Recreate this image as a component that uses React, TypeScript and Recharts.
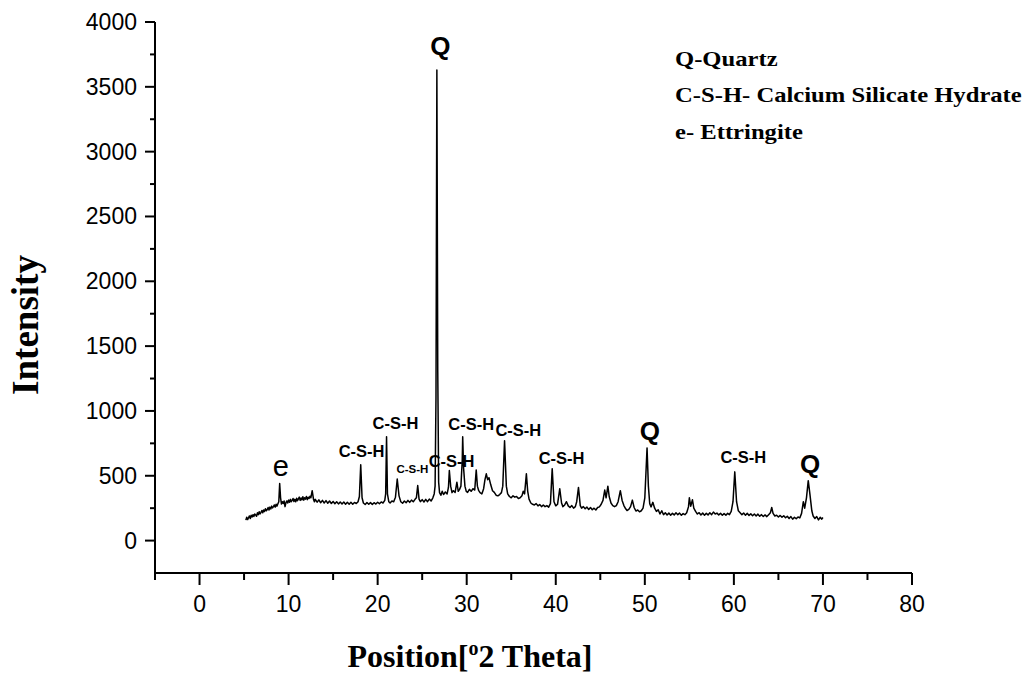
import React from "react";
import { LineChart, Line, XAxis, YAxis, ReferenceDot } from "recharts";

// XRD pattern: [2-theta, intensity]
const segLow: number[][] = [
  [5.2, 158], [5.3, 180], [5.4, 162], [5.5, 176], [5.6, 190], [5.7, 170], [5.8, 195], [5.9, 182],
  [6.0, 200], [6.1, 186], [6.2, 205], [6.3, 198], [6.4, 188], [6.5, 214], [6.6, 200], [6.7, 222],
  [6.8, 206], [6.9, 218], [7.0, 232], [7.1, 214], [7.2, 236], [7.3, 224], [7.4, 246], [7.5, 230],
  [7.6, 240], [7.7, 255], [7.8, 236], [7.9, 258], [8.0, 244], [8.1, 266], [8.2, 252], [8.3, 262],
  [8.4, 275], [8.5, 258], [8.6, 280], [8.7, 266], [8.8, 284], [8.9, 300], [9.0, 440], [9.1, 330],
  [9.2, 282], [9.3, 300], [9.4, 286], [9.5, 305], [9.6, 262], [9.7, 292], [9.8, 306], [9.9, 290],
  [10.0, 312], [10.1, 296], [10.2, 318], [10.3, 300], [10.4, 310], [10.5, 325], [10.6, 302], [10.7, 318],
  [10.8, 300], [10.9, 326], [11.0, 308], [11.1, 322], [11.2, 335], [11.3, 310], [11.4, 328], [11.5, 314],
  [11.6, 338], [11.7, 312], [11.8, 330], [11.9, 320], [12.0, 340], [12.1, 316], [12.2, 334], [12.3, 325],
  [12.4, 342], [12.5, 330], [12.65, 385], [12.8, 318],
];

const segMid: number[][] = [
  [12.9, 300], [13.0, 318], [13.2, 296], [13.4, 314], [13.6, 292], [13.8, 310], [14.0, 290], [14.2, 308],
  [14.4, 288], [14.6, 305], [14.8, 286], [15.0, 302], [15.2, 284], [15.4, 300], [15.6, 283], [15.8, 298],
  [16.0, 282], [16.2, 297], [16.4, 280], [16.6, 295], [16.8, 281], [17.0, 296], [17.2, 280], [17.4, 294],
  [17.6, 286], [17.8, 300], [17.95, 340], [18.1, 585], [18.25, 330], [18.4, 290], [18.6, 278], [18.8, 294],
  [19.0, 280], [19.2, 293], [19.4, 279], [19.6, 292], [19.8, 282], [20.0, 296], [20.2, 284], [20.4, 298],
  [20.6, 290], [20.8, 310], [20.9, 360], [21.0, 800], [21.1, 360], [21.25, 300], [21.4, 290], [21.6, 305],
  [21.8, 300], [22.0, 335], [22.2, 475], [22.4, 345], [22.6, 300], [22.8, 288], [23.0, 305], [23.2, 292],
  [23.4, 310], [23.6, 295], [23.8, 312], [24.0, 300], [24.2, 318], [24.35, 330], [24.5, 425], [24.65, 320],
  [24.8, 300], [25.0, 316], [25.2, 298], [25.4, 318], [25.6, 300], [25.8, 320], [26.0, 305], [26.2, 330],
  [26.35, 360],
];

const segQuartz: number[][] = [
  [26.45, 420], [26.55, 1100], [26.65, 3630], [26.75, 1300], [26.85, 450], [26.95, 370],
];

const segHump: number[][] = [
  [27.1, 350], [27.25, 380], [27.4, 355], [27.6, 375], [27.8, 360], [27.95, 410], [28.05, 540], [28.2, 420],
  [28.35, 370], [28.5, 385], [28.7, 372], [28.9, 450], [29.05, 380], [29.2, 395], [29.35, 420], [29.5, 620],
  [29.55, 800], [29.65, 560], [29.8, 420], [29.95, 380], [30.1, 372], [30.3, 395], [30.5, 380], [30.7, 400],
  [30.9, 390], [31.07, 545], [31.2, 420], [31.35, 385], [31.5, 370], [31.7, 360], [31.9, 400], [32.05, 470],
  [32.2, 515], [32.35, 470], [32.5, 485], [32.7, 430], [32.9, 385], [33.1, 372], [33.3, 350], [33.5, 345],
  [33.7, 355], [33.9, 370], [34.05, 420], [34.25, 770], [34.45, 420], [34.6, 360], [34.8, 340], [35.0, 330],
  [35.2, 345], [35.4, 335], [35.6, 340], [35.8, 325], [36.0, 330], [36.2, 345], [36.35, 380], [36.5, 360],
  [36.7, 515], [36.85, 380], [37.0, 320], [37.2, 290], [37.4, 280], [37.6, 275], [37.8, 285], [38.0, 268],
  [38.2, 278], [38.4, 262], [38.6, 275], [38.8, 262], [39.0, 270], [39.2, 258], [39.4, 285], [39.6, 555],
  [39.8, 300], [40.0, 268], [40.2, 280], [40.45, 400], [40.65, 290], [40.8, 262], [41.0, 275], [41.2, 300],
  [41.4, 268], [41.6, 255], [41.8, 270], [42.0, 250], [42.2, 262], [42.35, 300], [42.55, 410], [42.75, 270],
  [42.9, 250], [43.1, 262], [43.3, 245], [43.5, 258], [43.7, 240], [43.9, 255], [44.1, 238], [44.3, 250],
  [44.5, 236], [44.7, 255], [44.9, 260], [45.1, 280], [45.3, 310], [45.5, 390], [45.65, 330], [45.85, 420],
  [46.0, 340], [46.2, 290], [46.4, 270], [46.6, 262], [46.8, 270], [47.0, 300], [47.25, 385], [47.45, 310],
  [47.65, 270], [47.85, 245], [48.0, 232], [48.2, 240], [48.4, 262], [48.6, 312], [48.8, 255], [49.0, 228],
  [49.2, 236], [49.4, 222], [49.6, 230], [49.8, 250],
];

const segHigh: number[][] = [
  [50.0, 330], [50.15, 560], [50.25, 715], [50.4, 420], [50.55, 285], [50.7, 260], [50.9, 295], [51.1, 250],
  [51.3, 225], [51.5, 238], [51.7, 205], [51.9, 230], [52.1, 200], [52.3, 215], [52.5, 198], [52.7, 212],
  [52.9, 196], [53.1, 210], [53.3, 198], [53.5, 214], [53.7, 200], [53.9, 212], [54.1, 195], [54.3, 208],
  [54.5, 200], [54.7, 215], [54.9, 260], [55.0, 330], [55.15, 265], [55.35, 315], [55.5, 250], [55.7, 225],
  [55.9, 205], [56.1, 215], [56.3, 198], [56.5, 212], [56.7, 196], [56.9, 210], [57.1, 198], [57.3, 214],
  [57.5, 200], [57.7, 220], [57.9, 205], [58.1, 212], [58.3, 198], [58.5, 210], [58.7, 195], [58.9, 208],
  [59.1, 196], [59.3, 210], [59.5, 200], [59.7, 225], [59.9, 300], [60.1, 530], [60.3, 300], [60.5, 230],
  [60.7, 215], [60.9, 200], [61.1, 212], [61.3, 196], [61.5, 210], [61.7, 194], [61.9, 206], [62.1, 192],
  [62.3, 205], [62.5, 190], [62.7, 204], [62.9, 188], [63.1, 200], [63.3, 186], [63.5, 198], [63.7, 185],
  [63.9, 200], [64.1, 215], [64.25, 255], [64.4, 210], [64.6, 190], [64.8, 196], [65.0, 182], [65.2, 194],
  [65.4, 180], [65.6, 192], [65.8, 176], [66.0, 188], [66.2, 170], [66.4, 185], [66.6, 165], [66.8, 180],
  [67.0, 168], [67.2, 182], [67.4, 175], [67.6, 210], [67.8, 300], [67.95, 250], [68.15, 330], [68.35, 462],
  [68.55, 350], [68.75, 230], [68.9, 190], [69.1, 170], [69.3, 185], [69.5, 160], [69.7, 180], [69.85, 165],
  [70.0, 178],
];

const xTicks = [-5, 0, 5, 10, 15, 20, 25, 30, 35, 40, 45, 50, 55, 60, 65, 70, 75, 80];
const yTicks = [0, 250, 500, 750, 1000, 1250, 1500, 1750, 2000, 2250, 2500, 2750, 3000, 3250, 3500, 3750, 4000];

// peak annotations: text, 2-theta, intensity (label anchor), kind
const peakLabels = [
  { text: "Q", theta: 27.05, intensity: 3820, kind: "q" },
  { text: "e", theta: 9.13, intensity: 577, kind: "e" },
  { text: "C-S-H", theta: 18.2, intensity: 688, kind: "csh" },
  { text: "C-S-H", theta: 22.0, intensity: 906, kind: "csh" },
  { text: "C-S-H", theta: 23.9, intensity: 552, kind: "small" },
  { text: "C-S-H", theta: 28.3, intensity: 611, kind: "csh" },
  { text: "C-S-H", theta: 30.5, intensity: 901, kind: "csh" },
  { text: "C-S-H", theta: 35.8, intensity: 855, kind: "csh" },
  { text: "C-S-H", theta: 40.65, intensity: 637, kind: "csh" },
  { text: "Q", theta: 50.56, intensity: 847, kind: "q" },
  { text: "C-S-H", theta: 61.06, intensity: 641, kind: "csh" },
  { text: "Q", theta: 68.56, intensity: 590, kind: "q" },
];

const legendLines = ["Q-Quartz", "C-S-H- Calcium Silicate Hydrate", "e- Ettringite"];

const pattern = [...segLow, ...segMid, ...segQuartz, ...segHump, ...segHigh].map(([theta, intensity]) => ({
  theta,
  intensity,
}));

const SANS = "'Liberation Sans', Arial, sans-serif";
const SERIF = "'Liberation Serif', 'Times New Roman', serif";

const labelStyle: Record<string, any> = {
  q: { fontSize: 26, fontWeight: "bold" },
  e: { fontSize: 29, fontWeight: "normal" },
  csh: { fontSize: 16.5, fontWeight: "bold" },
  small: { fontSize: 11.5, fontWeight: "bold" },
};

const XTick = (props: any) => {
  const { x, y, payload } = props;
  const v = payload.value;
  const major = v % 10 === 0;
  return (
    <g>
      <line x1={x} x2={x} y1={y} y2={y + (major ? 12 : 7)} stroke="#000" strokeWidth={2} />
      {major && (
        <text x={x} y={y + 39} textAnchor="middle" fontFamily={SANS} fontSize={23} fill="#000">
          {v}
        </text>
      )}
    </g>
  );
};

const YTick = (props: any) => {
  const { x, y, payload } = props;
  const v = payload.value;
  const major = v % 500 === 0;
  return (
    <g>
      <line x1={x} x2={x - (major ? 10 : 5)} y1={y} y2={y} stroke="#000" strokeWidth={2} />
      {major && (
        <text x={x - 18} y={y + 8} textAnchor="end" fontFamily={SANS} fontSize={23} fill="#000">
          {v}
        </text>
      )}
    </g>
  );
};

export default function App() {
  return (
    <div style={{ position: "relative", width: 1019, height: 665 }}>
      <LineChart
        width={1019}
        height={665}
        data={pattern}
        margin={{ top: 14, right: 115, bottom: 40, left: 47 }}
      >
        <XAxis
          dataKey="theta"
          type="number"
          domain={[-5, 80]}
          ticks={xTicks}
          interval={0}
          height={60}
          tickSize={0}
          tickMargin={0}
          tickLine={false}
          axisLine={{ stroke: "#000", strokeWidth: 2 }}
          tick={<XTick />}
          allowDataOverflow
        />
        <YAxis
          dataKey="intensity"
          type="number"
          domain={[-250, 4000]}
          ticks={yTicks}
          interval={0}
          width={100}
          tickSize={0}
          tickMargin={0}
          tickLine={false}
          axisLine={{ stroke: "#000", strokeWidth: 2 }}
          tick={<YTick />}
          allowDataOverflow
        />
        <Line
          dataKey="intensity"
          type="linear"
          stroke="#000"
          strokeWidth={1.5}
          strokeLinejoin="round"
          dot={false}
          activeDot={false}
          isAnimationActive={false}
        />
        {peakLabels.map((p, i) => (
          <ReferenceDot
            key={i}
            x={p.theta}
            y={p.intensity}
            r={0}
            fill="none"
            stroke="none"
            label={{
              value: p.text,
              position: "center",
              fill: "#000",
              fontFamily: SANS,
              ...labelStyle[p.kind],
            }}
          />
        ))}
      </LineChart>
      <svg
        width={1035}
        height={681}
        style={{ position: "absolute", left: -8, top: -8, pointerEvents: "none", overflow: "visible" }}
      >
        <text
          x={38}
          y={325}
          transform="rotate(-90 38 325)"
          textAnchor="middle"
          fontFamily={SERIF}
          fontWeight="bold"
          fontSize={37}
          fill="#000"
        >
          Intensity
        </text>
        <text x={470} y={667} textAnchor="middle" fontFamily={SERIF} fontWeight="bold" fontSize={32} fill="#000">
          <tspan>Position[</tspan>
          <tspan dy={-12} fontSize={20}>o</tspan>
          <tspan dy={12}>2 Theta]</tspan>
        </text>
        <g transform="translate(675 0) scale(1.12 1)">
          {legendLines.map((t, i) => (
            <text key={i} x={0} y={66 + i * 36.5} fontFamily={SERIF} fontWeight="bold" fontSize={22} fill="#000">
              {t}
            </text>
          ))}
        </g>
      </svg>
    </div>
  );
}
